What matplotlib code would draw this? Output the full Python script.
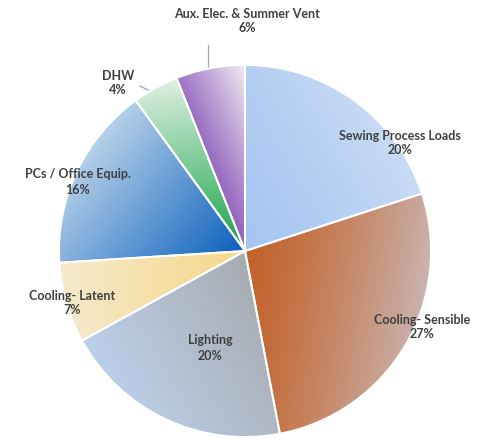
import matplotlib
matplotlib.use("Agg")
import matplotlib.pyplot as plt
import numpy as np
from matplotlib.colors import to_rgb

# energy end-use shares (%), clockwise from 12 o'clock
categories = ['Sewing Process Loads', 'Cooling - Sensible', 'Lighting',
              'Cooling - Latent', 'PCs / Office Equip.', 'DHW',
              'Aux. Elec. & Summer Vent']
label_text = ['Sewing Process Loads', 'Cooling- Sensible', 'Lighting',
              'Cooling- Latent', 'PCs / Office Equip.', 'DHW',
              'Aux. Elec. & Summer Vent']
shares = [20, 27, 20, 7, 16, 4, 6]

# gradient fills: (dark end, light end, direction of light end in degrees, gamma)
fills = [('#a5c5f0', '#cadcf6', 30, 1.3),
         ('#c3622a', '#cab4b1', -10, 1.3),
         ('#a7abb0', '#bccfea', 210, 1.0),
         ('#f6d98e', '#f5eacf', 180, 1.2),
         ('#0b5fbd', '#b8d2ea', 140, 1.0),
         ('#14a347', '#dff0e2', 95, 1.0),
         ('#9262be', '#f1ecf1', 25, 1.1)]

# label centres in pixels (x from left, y from top)
label_px = [(400, 143), (422, 327), (210, 348), (72, 303), (78, 182),
            (118, 83), (247, 21)]

W, H = 497, 441
cx, cy, R = 245, 251, 186


def px(x, y):
    return (x - cx) / R, (cy - y) / R


fig = plt.figure(figsize=(W / 100, H / 100), dpi=100)
ax = fig.add_axes([0, 0, 1, 1])

wedges, _ = ax.pie(shares, startangle=90, counterclock=False, radius=1,
                   wedgeprops=dict(edgecolor='white', linewidth=1.4))

xs = np.linspace(-1.02, 1.02, 500)
X, Y = np.meshgrid(xs, xs)
for w, (c0, c1, ang, g) in zip(wedges, fills):
    w.set_facecolor('none')
    w.set_zorder(3)
    a = np.radians(ang)
    proj = X * np.cos(a) + Y * np.sin(a)
    v = w.get_path().vertices
    pv = v[:, 0] * np.cos(a) + v[:, 1] * np.sin(a)
    t = np.clip((proj - pv.min()) / (pv.max() - pv.min()), 0, 1) ** g
    t = t[..., None]
    img = np.array(to_rgb(c0)) * (1 - t) + np.array(to_rgb(c1)) * t
    im = ax.imshow(img, extent=(-1.02, 1.02, -1.02, 1.02), origin='lower',
                   zorder=2, interpolation='bilinear')
    im.set_clip_path(w)

# leader lines for the two small slices
ax.plot(*zip(px(208, 45), px(208, 69)), color='#a6a6a6', lw=0.9, zorder=1)
ax.plot(*zip(px(140, 86), px(152, 92)), color='#a6a6a6', lw=0.9, zorder=1)

for name, val, (lx, ly) in zip(label_text, shares, label_px):
    x, y = px(lx, ly)
    ax.text(x, y, f'{name}\n{val}%', ha='center', va='center',
            multialignment='center', fontsize=9, fontfamily='Lato',
            fontweight='bold', color='#404040', linespacing=1.3, zorder=5)

ax.set_xlim(-cx / R, (W - cx) / R)
ax.set_ylim(-(H - cy) / R, cy / R)
ax.set_aspect('equal')
ax.axis('off')

fig.savefig('out.png', dpi=100)
